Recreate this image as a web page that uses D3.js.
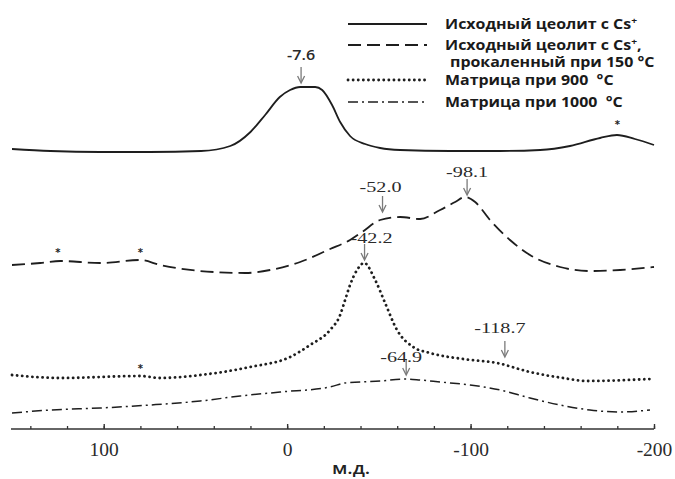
<!DOCTYPE html>
<html>
<head>
<meta charset="utf-8">
<script src="https://cdn.jsdelivr.net/npm/d3@7/dist/d3.min.js"></script>
<style>
  html, body { margin: 0; padding: 0; background: #fff; }
  svg { display: block; }
  text { white-space: pre; }
</style>
</head>
<body>
<svg id="chart" width="675" height="479"></svg>
<script>
// ---- Data (ppm, stacked intensity in arbitrary units) ----
const solidPpm  = [150, 129, 102, 75, 47, 31, 20, 12, 4, -1.6, -7.1, -15.3, -19.1, -24.5, -28.9, -34.3, -42.5, -50.7, -61.6, -88.8, -116.1, -137.9, -154.2, -170.6, -179.8, -189.6, -200];
const solidVal  = [70.0, 69.5, 69.25, 69.25, 69.5, 70.75, 74.25, 78.5, 83, 84.75, 85.5, 85.5, 84.75, 81, 76.75, 73.25, 71.25, 70.25, 69.75, 69.5, 69.5, 69.75, 70.75, 72.75, 73.5, 72.5, 71];

const dashedPpm = [150, 134.6, 123.7, 101.9, 80.1, 69.2, 47.4, 22.9, 9.3, -7.1, -23.4, -34.3, -40.9, -50.7, -61.6, -72.5, -83.4, -91.6, -97.0, -102.5, -110.6, -121.5, -132.4, -148.8, -165.1, -181.5, -200];
const dashedVal = [41, 41.5, 42, 41.5, 42.25, 41, 39.5, 39, 39.75, 41.75, 45, 47.25, 49.25, 52.25, 53, 52.5, 54.75, 56.75, 58, 56.75, 52.25, 47.25, 43.5, 40.5, 39.5, 39.75, 40.5];

const dottedPpm = [150, 123.7, 80.1, 69.2, 47.4, 20.2, -1.6, -12.5, -23.4, -28.9, -31.6, -34.3, -38.1, -42.0, -48.0, -53.4, -59.9, -68.7, -77.9, -95.9, -114.4, -132.4, -150.4, -163.5, -197.8];
const dottedVal = [13.5, 12.75, 13.25, 12.75, 13.5, 15.5, 18, 21, 24.75, 28.5, 32.25, 36, 39.75, 41.5, 37.25, 31.5, 24.75, 20.5, 19, 17.5, 16.5, 14.25, 12.75, 12, 12.5];

const dashDotPpm = [150, 129.2, 101.9, 74.7, 47.4, 25.6, 3.8, -23.4, -31.6, -50.7, -64.3, -72.5, -83.4, -99.7, -116.1, -132.4, -148.8, -165.1, -181.5, -197.8];
const dashDotVal = [4, 4.75, 5.25, 6, 7, 8.25, 9.25, 10.5, 11.5, 12, 12.5, 12.25, 11.75, 11, 9.75, 7.75, 6, 4.75, 4.25, 4.75];

const seriesNames = [
  ["Исходный цеолит с Cs", "+", ""],
  ["Исходный цеолит с Cs", "+", ","],
  ["Матрица при 900  °C", "", ""],
  ["Матрица при 1000  °C", "", ""]
];
const secondLine = "прокаленный при 150 °C";

// annotated peaks: label, ppm, intensity at arrow tip
const peakLabels = ["-7.6", "-52.0", "-98.1", "-42.2", "-118.7", "-64.9"];
const peakPpm    = [-7.6, -52.0, -98.1, -42.2, -118.7, -64.9];
const peakTip    = [86.5, 54.25, 58.5, 42.25, 18, 13.5];

// asterisks (spinning side bands): ppm, intensity
const starPpm = [-180, 125, 80, 80];
const starVal = [76.5, 44.5, 44.5, 15.5];

const majorTicks = [100, 0, -100, -200];
const minorTicks = d3.range(140, -201, -20);
const xTitle = "м.д.";

// ---- Layout / style ----
const svg = d3.select("#chart");
const x = d3.scaleLinear().domain([150, -200]).range([12, 654]);
const y = d3.scaleLinear().domain([0, 100]).range([429, 29]);

const styles = [
  { dash: null, width: 1.8, cap: "butt" },
  { dash: "13,6", width: 1.8, cap: "butt" },
  { dash: "0.1,5", width: 2.8, cap: "round" },
  { dash: "10,4,2,4", width: 1.5, cap: "butt" }
];
const seriesData = [
  d3.zip(solidPpm, solidVal),
  d3.zip(dashedPpm, dashedVal),
  d3.zip(dottedPpm, dottedVal),
  d3.zip(dashDotPpm, dashDotVal)
];

const line = d3.line().x(d => x(d[0])).y(d => y(d[1])).curve(d3.curveMonotoneX);

seriesData.forEach((data, i) => {
  svg.append("path")
    .attr("d", line(data.slice().sort((a, b) => b[0] - a[0])))
    .attr("fill", "none")
    .attr("stroke", "#1e1e1e")
    .attr("stroke-width", styles[i].width)
    .attr("stroke-linecap", styles[i].cap)
    .attr("stroke-dasharray", styles[i].dash);
});

// ---- Axis ----
const axisY = y(0);
const minorAxis = d3.axisBottom(x).tickValues(minorTicks).tickSizeInner(-3).tickSizeOuter(0).tickFormat("");
const majorAxis = d3.axisBottom(x).tickValues(majorTicks).tickSizeInner(-5).tickSizeOuter(0).tickFormat(d3.format("d"));

const gMinor = svg.append("g").attr("transform", `translate(0,${axisY})`).call(minorAxis);
gMinor.select(".domain").attr("stroke", "#333").attr("stroke-width", 1.6)
  .attr("d", `M${x(150) - 1},0H${x(-200)}`);
gMinor.selectAll(".tick line").attr("stroke", "#333").attr("stroke-width", 1.3);

const gMajor = svg.append("g").attr("transform", `translate(0,${axisY})`).call(majorAxis);
gMajor.select(".domain").remove();
gMajor.selectAll(".tick line").attr("stroke", "#333").attr("stroke-width", 1.4);
gMajor.selectAll(".tick text")
  .attr("y", 27).attr("dy", 0)
  .attr("font-family", "'Liberation Serif', 'DejaVu Serif', serif")
  .attr("font-size", 19.5)
  .attr("fill", "#2a2a2a")
  .text(d => d3.format("d")(d).replace("−", "-"));

svg.append("text")
  .attr("transform", "translate(351,474) scale(1.15,1)")
  .attr("text-anchor", "middle")
  .attr("font-family", "'Open Sans', 'Noto Sans', sans-serif")
  .attr("font-weight", 600)
  .attr("font-size", 17)
  .attr("fill", "#222")
  .text(xTitle);

// ---- Peak annotations ----
const labelOffsets = [[0, -23, "sans"], [-2, -20, "serif"], [0, -18, "serif"], [7, -17, "serif"], [-5, -24, "serif"], [-5, -13, "serif"]];
peakLabels.forEach((lab, i) => {
  const px = x(peakPpm[i]), py = y(peakTip[i]);
  const g = svg.append("g");
  g.append("line").attr("x1", px).attr("x2", px).attr("y1", py - 16).attr("y2", py - 1)
    .attr("stroke", "#7a7a7a").attr("stroke-width", 1.3);
  g.append("path").attr("d", `M${px - 3.5},${py - 7}L${px},${py}L${px + 3.5},${py - 7}`)
    .attr("fill", "none").attr("stroke", "#7a7a7a").attr("stroke-width", 1.3);
  const off = labelOffsets[i];
  const t = g.append("text")
    .attr("transform", `translate(${px + off[0]},${py + off[1]}) scale(${off[2] === "sans" ? 1.15 : 1.3},1)`)
    .attr("text-anchor", "middle")
    .attr("fill", "#2a2a2a")
    .text(lab);
  if (off[2] === "sans") {
    t.attr("font-family", "'Open Sans', 'Noto Sans', sans-serif").attr("font-weight", 600).attr("font-size", 14);
  } else {
    t.attr("font-family", "'Liberation Serif', 'DejaVu Serif', serif").attr("font-size", 15.5);
  }
});

// ---- Asterisks ----
starPpm.forEach((p, i) => {
  svg.append("text")
    .attr("x", x(p)).attr("y", y(starVal[i]) + 5)
    .attr("text-anchor", "middle")
    .attr("font-family", "'DejaVu Sans', sans-serif")
    .attr("font-weight", 700)
    .attr("font-size", 10)
    .attr("fill", "#222")
    .text("*");
});

// ---- Legend ----
const legendRows = [24, 45, 80, 102];
const legend = svg.append("g");
const legendFont = 14, legendStretch = 1.14;
seriesNames.forEach((nm, i) => {
  const ly = legendRows[i];
  legend.append("line")
    .attr("x1", 348).attr("x2", 427).attr("y1", ly).attr("y2", ly)
    .attr("stroke", "#1e1e1e")
    .attr("stroke-width", styles[i].width)
    .attr("stroke-linecap", styles[i].cap)
    .attr("stroke-dasharray", styles[i].dash);
  const t = legend.append("text")
    .attr("transform", `translate(445,${ly + 5}) scale(${legendStretch},1)`)
    .attr("font-family", "'Open Sans', 'Noto Sans', sans-serif")
    .attr("font-weight", 700)
    .attr("font-size", legendFont)
    .attr("fill", "#1a1a1a");
  t.append("tspan").text(nm[0]);
  if (nm[1]) t.append("tspan").attr("font-size", 9).attr("dy", -5).text(nm[1]);
  if (nm[2]) t.append("tspan").attr("dy", 5).text(nm[2]);
});
legend.append("text")
  .attr("transform", `translate(450,${legendRows[1] + 22}) scale(${legendStretch},1)`)
  .attr("font-family", "'Open Sans', 'Noto Sans', sans-serif")
  .attr("font-weight", 700)
  .attr("font-size", legendFont)
  .attr("fill", "#1a1a1a")
  .text(secondLine);
</script>
</body>
</html>
